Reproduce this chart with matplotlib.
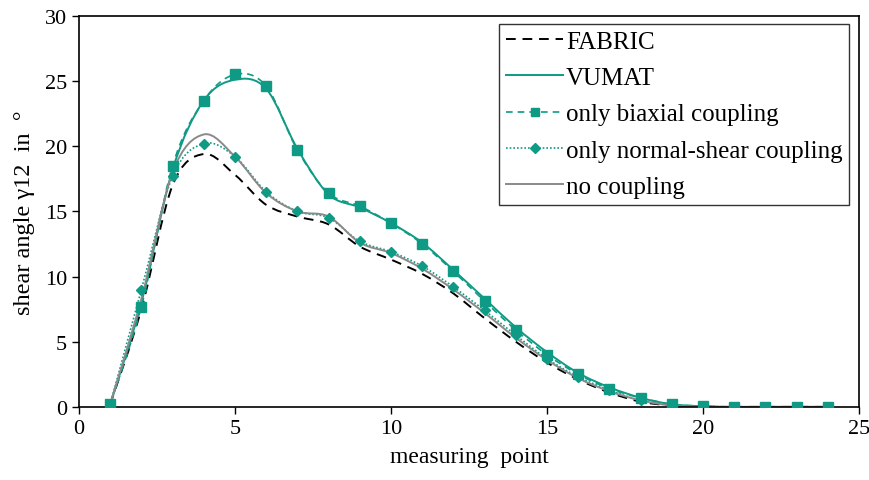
import numpy as np
import matplotlib
matplotlib.use("Agg")
import matplotlib.pyplot as plt
from matplotlib.path import Path
from matplotlib.patches import PathPatch
from matplotlib.lines import Line2D

plt.rcParams['font.family'] = ['Liberation Serif', 'DejaVu Serif']

points = list(range(1, 25))
fabric = [0.2, 7.5, 17.0, 19.4, 17.8, 15.5, 14.6, 14.0, 12.3, 11.3, 10.2, 8.7, 6.8, 5.0, 3.4, 2.1, 1.1, 0.4, 0.1, 0.0, 0.0, 0.0, 0.0, 0.0]
vumat = [0.2, 8.0, 18.2, 23.5, 25.1, 24.4, 19.8, 16.3, 15.3, 14.1, 12.6, 10.5, 8.3, 6.1, 4.2, 2.6, 1.5, 0.7, 0.2, 0.05, 0.0, 0.0, 0.0, 0.0]
biaxial = [0.2, 7.7, 18.5, 23.5, 25.5, 24.6, 19.7, 16.4, 15.4, 14.1, 12.5, 10.4, 8.1, 5.9, 4.0, 2.5, 1.4, 0.7, 0.2, 0.05, 0.0, 0.0, 0.0, 0.0]
normal_shear = [0.2, 9.0, 17.7, 20.2, 19.2, 16.5, 15.0, 14.5, 12.7, 11.9, 10.8, 9.2, 7.4, 5.5, 3.7, 2.3, 1.3, 0.5, 0.15, 0.05, 0.0, 0.0, 0.0, 0.0]
no_coupling = [0.2, 8.3, 18.0, 20.9, 19.2, 16.4, 15.0, 14.6, 12.6, 11.8, 10.6, 9.0, 7.2, 5.3, 3.6, 2.2, 1.2, 0.5, 0.1, 0.0, 0.0, 0.0, 0.0, 0.0]

teal = '#0e9a84'
gray = '#8a8a8a'


def smooth_path(x, y):
    P = np.column_stack([x, y]).astype(float)
    n = len(P)
    verts = [P[0]]
    codes = [Path.MOVETO]
    for i in range(n - 1):
        p0 = P[i - 1] if i > 0 else P[i]
        p1 = P[i]
        p2 = P[i + 1]
        p3 = P[i + 2] if i + 2 < n else P[i + 1]
        c1 = p1 + (p2 - p0) / 6.0
        c2 = p2 - (p3 - p1) / 6.0
        verts += [c1, c2, p2]
        codes += [Path.CURVE4] * 3
    return Path(verts, codes)


fig = plt.figure(figsize=(8.7, 4.81), dpi=100)
ax = fig.add_axes([0.0908, 0.152, 0.8966, 0.813])

series = [
    (fabric, dict(color='black', linestyle=(0, (5, 3.5)), lw=1.4), None, 'FABRIC'),
    (vumat, dict(color=teal, linestyle='-', lw=1.4), None, 'VUMAT'),
    (biaxial, dict(color=teal, linestyle=(0, (4, 3)), lw=1.2), ('s', 7.5), 'only biaxial coupling'),
    (normal_shear, dict(color=teal, linestyle=(0, (1, 1.2)), lw=1.2), ('D', 5.5), 'only normal-shear coupling'),
    (no_coupling, dict(color=gray, linestyle='-', lw=1.4), None, 'no coupling'),
]

handles = []
for vals, st, mk, label in series:
    patch = PathPatch(smooth_path(points, vals), fill=False, edgecolor=st['color'],
                      linestyle=st['linestyle'], lw=st['lw'], zorder=2)
    ax.add_patch(patch)
    if mk is not None:
        ax.plot(points, vals, linestyle='none', marker=mk[0], markersize=mk[1],
                color=teal, zorder=3)
    handles.append(Line2D([], [], color=st['color'], linestyle=st['linestyle'], lw=st['lw'],
                          marker=mk[0] if mk else None, markersize=(mk[1] * 0.85) if mk else 0))

ax.set_xlim(0, 25)
ax.set_ylim(0, 30)
ax.set_xticks([0, 5, 10, 15, 20, 25])
ax.set_yticks([0, 5, 10, 15, 20, 25, 30])
ax.tick_params(direction='out', length=5, width=1, labelsize=16, colors='black')
for s in ax.spines.values():
    s.set_linewidth(1.2)
    s.set_color('black')

ax.set_xlabel('measuring  point', fontsize=17, labelpad=6)
ax.set_ylabel('shear angle \u03b312  in  \u00b0', fontsize=17.5, labelpad=7)

leg = ax.legend(handles, [s[3] for s in series], loc='upper right',
                bbox_to_anchor=(0.9875, 0.98), fontsize=18, frameon=True,
                fancybox=False, edgecolor='black', handlelength=2.3,
                handletextpad=0.1, labelspacing=0.55, borderpad=0.27, borderaxespad=0)
leg.get_frame().set_linewidth(1.0)

fig.savefig('out.png', dpi=100)
